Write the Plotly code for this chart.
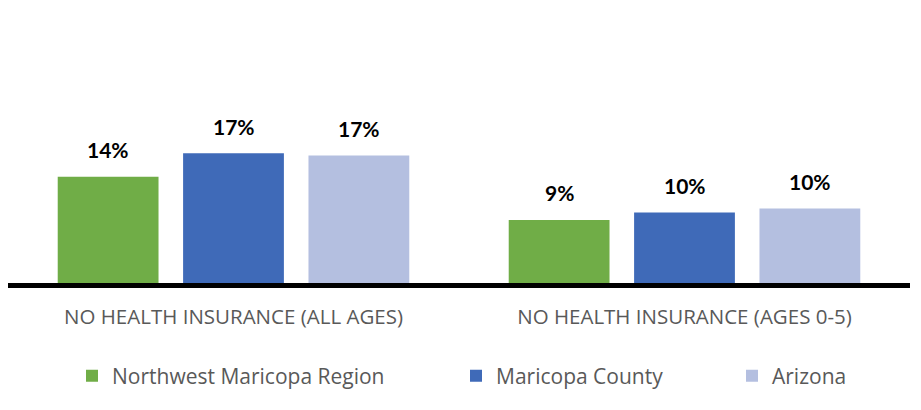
import plotly.graph_objects as go

categories = ["NO HEALTH INSURANCE (ALL AGES)", "NO HEALTH INSURANCE (AGES 0-5)"]
series_names = ["Northwest Maricopa Region", "Maricopa County", "Arizona"]
nw_values = [14.0, 8.3]
county_values = [17.1, 9.3]
az_values = [16.8, 9.8]
nw_labels = ["14%", "9%"]
county_labels = ["17%", "10%"]
az_labels = ["17%", "10%"]
colors = ["#70AD47", "#3F6AB8", "#B4BFE0"]

values = [nw_values, county_values, az_values]
labels = [nw_labels, county_labels, az_labels]
legend_ids = ["legend", "legend2", "legend3"]

# page body adds an 8px offset, so the figure is 8px smaller than the window
W, H = 913, 402

fig = go.Figure()
for i, name in enumerate(series_names):
    fig.add_trace(go.Bar(
        x=categories, y=values[i], name=name,
        marker=dict(color=colors[i], line=dict(width=0)),
        legend=legend_ids[i], hoverinfo="skip",
    ))

slot_px = 125.3
for i in range(3):
    for j, cat in enumerate(categories):
        fig.add_annotation(
            x=cat, y=values[i][j], xref="x", yref="y",
            text=labels[i][j], showarrow=False,
            xshift=(i - 1) * slot_px, yshift=27, yanchor="middle",
            font=dict(family="Lato", size=21, color="#000000", weight="bold"),
        )

legend_font = dict(family="Open Sans", size=21, color="#595959")
legend_x = [64, 448, 724]
layout_legends = {}
for i, lid in enumerate(legend_ids):
    layout_legends[lid] = dict(
        x=legend_x[i] / W, y=(H - 368) / H, xref="container", yref="container",
        xanchor="left", yanchor="middle", orientation="h",
        font=legend_font, itemwidth=30, bgcolor="rgba(0,0,0,0)",
        itemclick=False, itemdoubleclick=False,
    )

fig.update_layout(
    width=W, height=H,
    margin=dict(l=0, r=11, t=32, b=127, autoexpand=False),
    paper_bgcolor="white", plot_bgcolor="white",
    barmode="group", bargap=0.166, bargroupgap=0.196,
    showlegend=True,
    xaxis=dict(
        showline=True, linecolor="#000000", linewidth=4.5,
        ticks="", ticklabelstandoff=12, automargin=False,
        tickfont=dict(family="Open Sans", size=20.5, color="#595959"),
        showgrid=False, zeroline=False,
    ),
    yaxis=dict(range=[0, 32], visible=False, showgrid=False, zeroline=False,
               automargin=False),
    **layout_legends,
)

fig.write_html("out.html")
